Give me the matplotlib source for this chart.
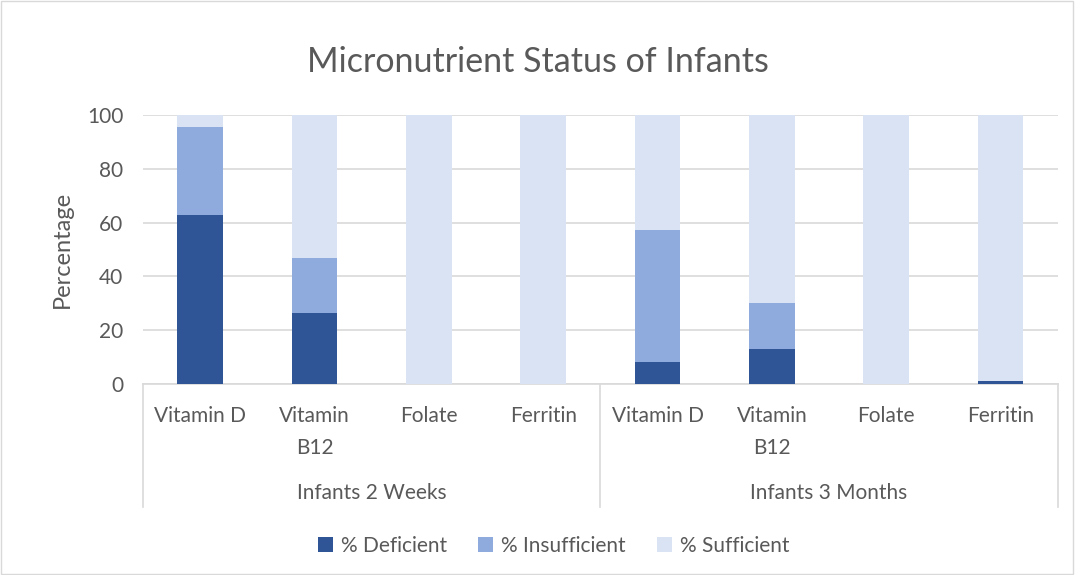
import numpy as np
import matplotlib
matplotlib.use("Agg")
import matplotlib.pyplot as plt

plt.rcParams['font.family'] = ['Lato', 'DejaVu Sans']

# data
groups = ["Infants 2 Weeks", "Infants 3 Months"]
nutrients = ["Vitamin D", "Vitamin\nB12", "Folate", "Ferritin"]
deficient = [62.8, 26.4, 0, 0, 8.3, 13.1, 0, 1.0]
insufficient = [32.8, 20.6, 0, 0, 48.9, 16.9, 0, 0]
sufficient = [100 - d - i for d, i in zip(deficient, insufficient)]
series_names = ["% Deficient", "% Insufficient", "% Sufficient"]

colors = ["#2F5597", "#8FAADC", "#DAE3F3"]
txt = "#595959"
grid = "#D9D9D9"
fs = 15

fig = plt.figure(figsize=(10.75, 5.75), dpi=100)
ax = fig.add_axes([0.133, 0.332, 0.851, 0.468])

n = len(groups) * len(nutrients)
x = np.arange(n)
w = 0.4
bottom = np.zeros(n)
for vals, name, c in zip([deficient, insufficient, sufficient], series_names, colors):
    ax.bar(x, vals, w, bottom=bottom, color=c, label=name, zorder=3)
    bottom += np.array(vals)

ax.set_xlim(-0.5, n - 0.5)
ax.set_ylim(0, 100)
ax.set_yticks(range(0, 101, 20))
ax.yaxis.grid(True, color=grid, linewidth=1.2, zorder=0)
for s in ["top", "right", "left"]:
    ax.spines[s].set_visible(False)
ax.spines["bottom"].set_color(grid)
ax.spines["bottom"].set_linewidth(1.2)
ax.tick_params(axis="y", length=0, labelsize=fs, labelcolor=txt, pad=14)
ax.tick_params(axis="x", length=0, labelsize=fs, labelcolor=txt, pad=16)
ax.set_xticks(x)
ax.set_xticklabels(nutrients * len(groups), linespacing=1.7, va="top")
ax.set_ylabel("Percentage", fontsize=17, color=txt, labelpad=10)

# group labels and separators
k = len(nutrients)
for gi, g in enumerate(groups):
    cx = (gi * k + (k - 1) / 2 + 0.5) / n
    ax.text(cx, -0.404, g, transform=ax.transAxes, ha="center", va="center",
            fontsize=fs, color=txt)
for gi in range(len(groups) + 1):
    xs = gi * k / n
    ax.plot([xs, xs], [0, -0.458], transform=ax.transAxes, color=grid,
            linewidth=1.2, clip_on=False)

fig.suptitle("Micronutrient Status of Infants", y=0.92, fontsize=24.5, color=txt)

ax.legend(loc="center", bbox_to_anchor=(0.449, -0.6), ncol=3, frameon=False,
          fontsize=fs, labelcolor=txt, handlelength=0.7, handleheight=0.7,
          handletextpad=0.4, columnspacing=1.5)

fig.patches.append(plt.Rectangle((0.001, 0.002), 0.997, 0.996, transform=fig.transFigure,
                                 fill=False, edgecolor=grid, linewidth=1))

fig.savefig("out.png", dpi=100, facecolor="white")
